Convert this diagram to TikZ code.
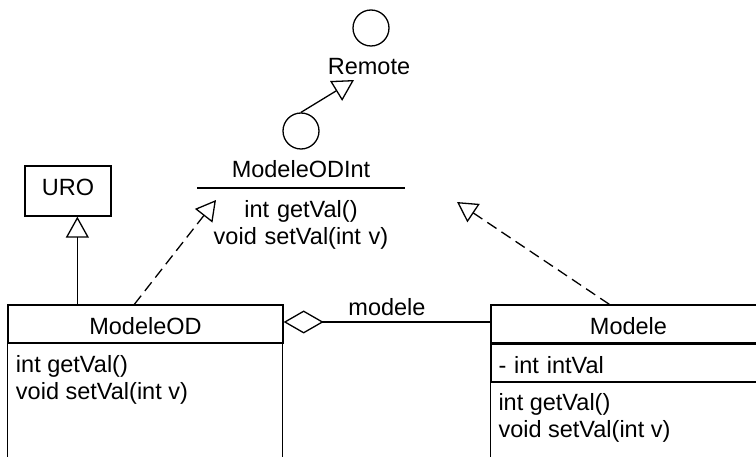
\documentclass[tikz,border=0pt]{standalone}
\usepackage{fontspec}
\setmainfont{Liberation Sans}
\usetikzlibrary{arrows.meta}

\tikzset{
	classname/.style={draw, minimum width=275pt, text height=30pt, text depth=8pt, inner ysep=0pt},
	attrpart/.style={draw, text width=260pt, align=left, inner xsep=7.5pt, inner ysep=0pt, text height=29pt, text depth=8pt},
	operations/.style={align=left, inner sep=0pt, anchor=north west},
	lollipop/.style={draw, circle, minimum size=36pt, inner sep=0pt},
	realize/.style={dash pattern=on 11pt off 6pt, -{Triangle[open, length=20pt, width=22pt]}},
	generalize/.style={-{Triangle[open, length=21pt, width=23pt]}},
	aggregate/.style={{Diamond[open, length=40pt, width=23pt]}-},
}

\begin{document}
\begin{tikzpicture}[x=1pt, y=-1pt, line width=1.3pt, font=\fontsize{23.5}{27}\selectfont]
		\useasboundingbox (0,0) rectangle (756,457);
		\clip (0,0) rectangle (756,457);

		% interfaces
		\node[lollipop] (Remote) at (371,28) {};
		\node[anchor=base] (Remotename) at (369,75) {Remote};
		\node[lollipop] (ModeleODInt) at (301,131) {};
		\node[anchor=base] (ModeleODIntname) at (301,178) {ModeleODInt};
		\node[align=center, text width=206pt, inner xsep=0pt, inner ysep=12pt, anchor=north] (ModeleODIntops) at (301,188) {int getVal()\\void setVal(int v)};
		\draw (ModeleODIntops.north west) -- (ModeleODIntops.north east);
		\coordinate (Remotetip) at (354,80);
		\coordinate (ifaceleft) at (216,200);
		\coordinate (ifaceright) at (457,202);

		% classes
		\node[draw, minimum width=86pt, text height=30pt, text depth=20pt, inner ysep=0pt] (URO) at (68,191) {URO};

		\node[classname] (ModeleOD) at (145.5,324) {ModeleOD};
		\draw (ModeleOD.south west) rectangle ++(275,160);
		\node[operations] (ModeleODops) at ([xshift=8pt, yshift=-11pt]ModeleOD.south west) {int getVal()\\void setVal(int v)};

		\node[classname] (Modele) at (628.5,324) {Modele};
		\node[attrpart, anchor=north] (Modeleattr) at (Modele.south) {- int intVal};
		\draw (Modeleattr.south west) rectangle ++(275,120);
		\node[operations] (Modeleops) at ([xshift=7.5pt, yshift=-11pt]Modeleattr.south west) {int getVal()\\void setVal(int v)};

		%%% RELATIONS
		\draw[generalize] (ModeleODInt.north) -- (Remotetip);
		\draw[generalize] ([xshift=70pt]ModeleOD.north west) -- ([xshift=70pt]ModeleOD.north west |- URO.south);
		\draw[realize] ([xshift=127pt]ModeleOD.north west) -- (ifaceleft);
		\draw[realize] ([xshift=119pt]Modele.north west) -- (ifaceright);
		\draw[aggregate] ([yshift=2pt]ModeleOD.east) -- node[above, inner sep=6pt] {modele} ([yshift=2pt]Modele.west);
\end{tikzpicture}
\end{document}
